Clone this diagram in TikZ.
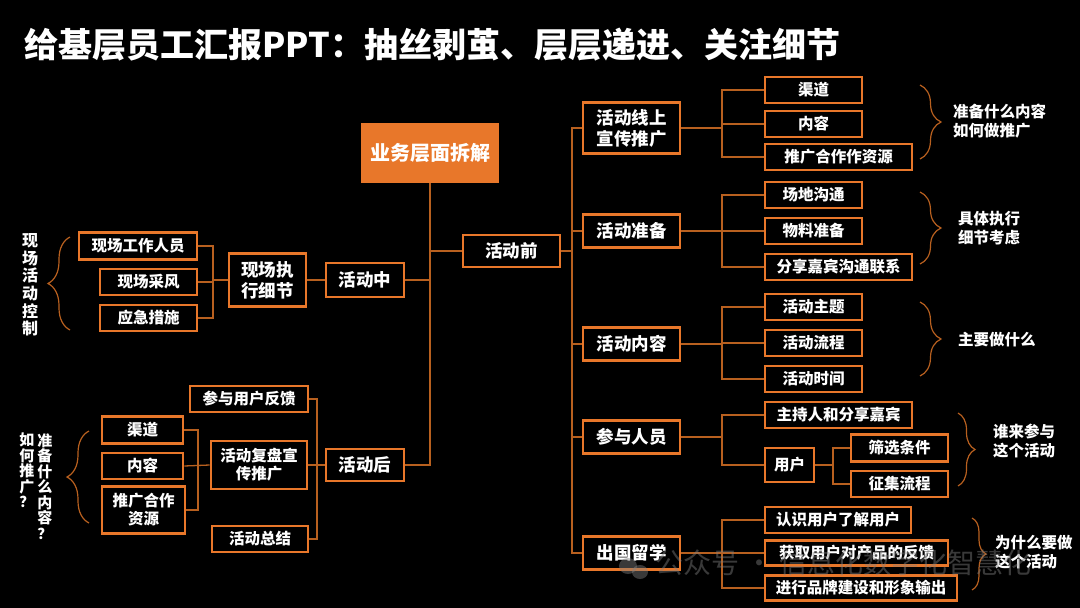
\documentclass[tikz,border=0pt]{standalone}
\usepackage{fontspec}
\setmainfont{Noto Sans CJK SC}
\usetikzlibrary{decorations.pathreplacing,calc}
\definecolor{org}{HTML}{E8772A}
\definecolor{lnk}{HTML}{B8601F}
\begin{document}
\begin{tikzpicture}[x=1pt,y=-1pt,
 box/.style={draw=org, line width=2.6pt, fill=black, text=white, font=\bfseries\fontsize{15.5}{18}\selectfont, inner sep=0pt, align=center},
 big/.style={box, font=\bfseries\fontsize{17.5}{21}\selectfont},
 conn/.style={draw=lnk, line width=1.3pt},
 brc/.style={draw=lnk, line width=1.2pt, decorate, decoration={brace, amplitude=#1}},
 note/.style={text=white, font=\bfseries\fontsize{15.5}{18.5}\selectfont, align=left, inner sep=0pt, anchor=west},
 vtext/.style={text=white, font=\bfseries\fontsize{15}{15.5}\selectfont, align=center, inner sep=0pt}]
\fill[black] (0,0) rectangle (1080,608);
\useasboundingbox (0,0) rectangle (1080,608);

% title
\node[text=white, font=\bfseries\fontsize{34}{40}\selectfont, anchor=west, inner sep=0pt] (title) at (24,45) {给基层员工汇报PPT：抽丝剥茧、层层递进、关注细节};

% root and phases
\node[fill=org, text=white, font=\bfseries\fontsize{20}{24}\selectfont, minimum width=138, minimum height=60, inner sep=0pt] (root) at (430,153) {业务层面拆解};
\node[big, minimum width=97, minimum height=32] (qian) at (511.5,251) {活动前};
\node[big, minimum width=78, minimum height=34] (zhong) at (365,280) {活动中};
\node[big, minimum width=78, minimum height=32] (hou) at (365,465) {活动后};

% right level 1
\node[big, minimum width=97, minimum height=51] (r1) at (631.5,128) {活动线上\\宣传推广};
\node[big, minimum width=97, minimum height=33] (r2) at (631.5,231) {活动准备};
\node[big, minimum width=97, minimum height=33] (r3) at (631.5,344) {活动内容};
\node[big, minimum width=97, minimum height=33] (r4) at (631.5,437) {参与人员};
\node[big, minimum width=97, minimum height=33] (r5) at (631.5,553) {出国留学};

% right level 2
\node[box, minimum width=97, minimum height=26] (a1) at (813.5,90) {渠道};
\node[box, minimum width=97, minimum height=26] (a2) at (813.5,124) {内容};
\node[box, minimum width=147, minimum height=26] (a3) at (838.5,157) {推广合作作资源};
\node[box, minimum width=97, minimum height=26] (b1) at (813.5,195) {场地沟通};
\node[box, minimum width=97, minimum height=26] (b2) at (813.5,231) {物料准备};
\node[box, minimum width=147, minimum height=26] (b3) at (838.5,267) {分享嘉宾沟通联系};
\node[box, minimum width=97, minimum height=26] (c1) at (813.5,307) {活动主题};
\node[box, minimum width=97, minimum height=26] (c2) at (813.5,343) {活动流程};
\node[box, minimum width=97, minimum height=26] (c3) at (813.5,379) {活动时间};
\node[box, minimum width=147, minimum height=26] (d1) at (838.5,415) {主持人和分享嘉宾};
\node[box, minimum width=49, minimum height=34] (d2) at (789.5,465) {用户};
\node[box, minimum width=97, minimum height=27] (d3) at (899.5,448) {筛选条件};
\node[box, minimum width=97, minimum height=26] (d4) at (899.5,484) {征集流程};
\node[box, minimum width=146, minimum height=26] (e1) at (838,520) {认识用户了解用户};
\node[box, minimum width=183, minimum height=25] (e2) at (856.5,553) {获取用户对产品的反馈};
\node[box, minimum width=192, minimum height=25] (e3) at (861,588) {进行品牌建设和形象输出};

% left side
\node[big, minimum width=77, minimum height=53] (l0) at (267.5,280) {现场执\\行细节};
\node[box, minimum width=118, minimum height=27] (l1) at (138,246) {现场工作人员};
\node[box, minimum width=97, minimum height=26] (l2) at (148.5,282) {现场采风};
\node[box, minimum width=97, minimum height=26] (l3) at (148.5,318) {应急措施};
\node[box, minimum width=96, minimum height=48] (h0) at (259,465) {活动复盘宣\\传推广};
\node[box, minimum width=118, minimum height=26] (h1) at (249,399) {参与用户反馈};
\node[box, minimum width=96, minimum height=26] (h2) at (260,539) {活动总结};
\node[box, minimum width=81, minimum height=27] (h3) at (142.5,430) {渠道};
\node[box, minimum width=81, minimum height=26] (h4) at (142.5,466) {内容};
\node[box, minimum width=83, minimum height=47] (h5) at (143.5,510) {推广合作\\资源};

% bus coordinates
\coordinate (rb) at (572,0);
\coordinate (sb) at (722,0);
\coordinate (ub) at (833,0);
\coordinate (lb) at (213,0);
\coordinate (hb) at (317,0);
\coordinate (kb) at (198,0);

% connectors root
\draw[conn] (root.south) -- (root.south |- hou.east) -- (hou.east);
\draw[conn] (root.south |- zhong.east) -- (zhong.east);
\draw[conn] (root.south |- qian.west) -- (qian.west);
% right main bus
\draw[conn] (qian.east) -- (qian.east -| rb);
\draw[conn] (r1.west) -- (r1.west -| rb) -- (r5.west -| rb) -- (r5.west);
\draw[conn] (r2.west) -- (r2.west -| rb);
\draw[conn] (r3.west) -- (r3.west -| rb);
\draw[conn] (r4.west) -- (r4.west -| rb);
% groups
\draw[conn] (r1.east) -- (r1.east -| sb);
\draw[conn] (a1.west) -- (a1.west -| sb) -- (a3.west -| sb) -- (a3.west);
\draw[conn] (a2.west) -- (a2.west -| sb);
\draw[conn] (r2.east) -- (b2.west);
\draw[conn] (b1.west) -- (b1.west -| sb) -- (b3.west -| sb) -- (b3.west);
\draw[conn] (r3.east) -- (r3.east -| sb);
\draw[conn] (c1.west) -- (c1.west -| sb) -- (c3.west -| sb) -- (c3.west);
\draw[conn] (c2.west) -- (c2.west -| sb);
\draw[conn] (r4.east) -- (r4.east -| sb);
\draw[conn] (d1.west) -- (d1.west -| sb) -- (d2.west -| sb) -- (d2.west);
\draw[conn] (d2.east) -- (d2.east -| ub);
\draw[conn] (d3.west) -- (d3.west -| ub) -- (d4.west -| ub) -- (d4.west);
\draw[conn] (r5.east) -- (e2.west);
\draw[conn] (e1.west) -- (e1.west -| sb) -- (e3.west -| sb) -- (e3.west);
% left
\draw[conn] (l0.east) -- (zhong.west);
\draw[conn] (l1.east) -- (l1.east -| lb) -- (l3.east -| lb) -- (l3.east);
\draw[conn] (l2.east) -- (l2.east -| lb);
\draw[conn] (l0.west -| lb) -- (l0.west);
\draw[conn] (h0.east) -- (hou.west);
\draw[conn] (h1.east) -- (h1.east -| hb) -- (h2.east -| hb) -- (h2.east);
\draw[conn] (h3.east) -- (h3.east -| kb) -- (h5.east -| kb) -- (h5.east);
\draw[conn] (h4.east) -- (h0.west);

% braces
\coordinate (br1a) at (920,85);  \coordinate (br1b) at (920,159);
\coordinate (br2a) at (920,192); \coordinate (br2b) at (920,264);
\coordinate (br3a) at (920,302); \coordinate (br3b) at (920,376);
\coordinate (br4a) at (958,413); \coordinate (br4b) at (958,486);
\coordinate (br5a) at (972,518); \coordinate (br5b) at (972,590);
\coordinate (bl1a) at (70,330);  \coordinate (bl1b) at (70,237);
\coordinate (bl2a) at (89,523);  \coordinate (bl2b) at (89,431);
\draw[brc=21pt] (br1a) -- (br1b);
\draw[brc=21pt] (br2a) -- (br2b);
\draw[brc=21pt] (br3a) -- (br3b);
\draw[brc=17pt] (br4a) -- (br4b);
\draw[brc=14pt] (br5a) -- (br5b);
\draw[brc=22pt] (bl1a) -- (bl1b);
\draw[brc=22pt] (bl2a) -- (bl2b);

% notes
\node[note] (n1) at (953,121) {准备什么内容\\如何做推广};
\node[note] (n2) at (958,228) {具体执行\\细节考虑};
\node[note] (n3) at (958,340) {主要做什么};
\node[note] (n4) at (993,441) {谁来参与\\这个活动};
\node[note] (n5) at (995,552) {为什么要做\\这个活动};

% vertical texts
\node[vtext, font=\bfseries\fontsize{16}{17.7}\selectfont] (v1) at (30,285) {现\\场\\活\\动\\控\\制};
\node[vtext, anchor=north] (v2) at (45,433) {准\\备\\什\\么\\内\\容\\？};
\node[vtext, anchor=north] (v3) at (27,433) {如\\何\\推\\广\\？};

% watermark
\begin{scope}[opacity=0.45]
\fill[gray] (628,566) ellipse (9 and 8);
\fill[gray] (640,572) ellipse (8 and 7);
\node[text=gray, font=\fontsize{28}{32}\selectfont, anchor=west, inner sep=0pt] (wm) at (655,563) {公众号 · 信息化数字化智慧化};
\end{scope}
\end{tikzpicture}
\end{document}
